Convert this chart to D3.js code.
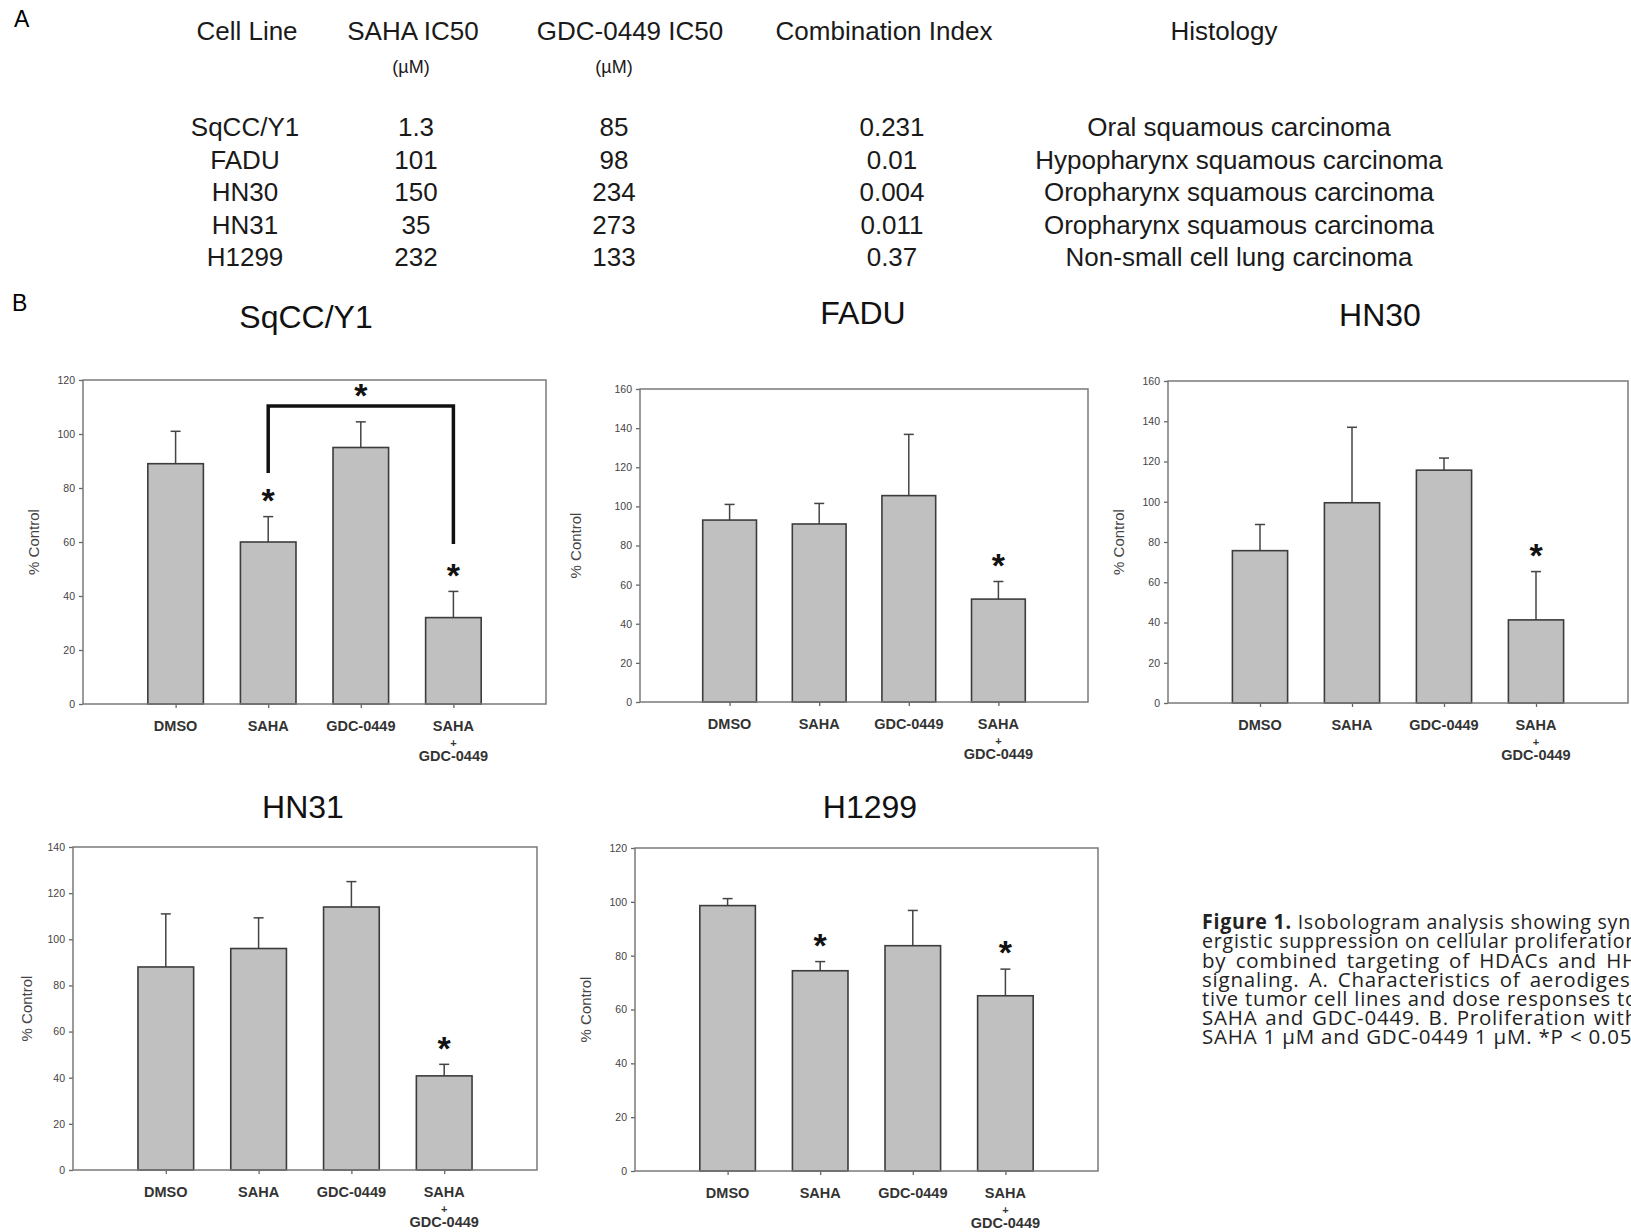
<!DOCTYPE html>
<html lang="en">
<head>
<meta charset="UTF-8">
<title>Figure 1 – SAHA and GDC-0449</title>
<script src="https://d3js.org/d3.v7.min.js"></script>
<style>
  body { margin: 0; background: #fff; overflow: hidden; }
</style>
</head>
<body>
<script>
// ---- panel A: table ----
const tableHeaders = ["Cell Line", "SAHA IC50", "GDC-0449 IC50", "Combination Index", "Histology"];
const tableUnits = ["", "(µM)", "(µM)", "", ""];
const cellLines = ["SqCC/Y1", "FADU", "HN30", "HN31", "H1299"];
const sahaIC50 = ["1.3", "101", "150", "35", "232"];
const gdcIC50 = ["85", "98", "234", "273", "133"];
const combinationIndex = ["0.231", "0.01", "0.004", "0.011", "0.37"];
const histology = [
  "Oral squamous carcinoma",
  "Hypopharynx squamous carcinoma",
  "Oropharynx squamous carcinoma",
  "Oropharynx squamous carcinoma",
  "Non-small cell lung carcinoma"
];

// ---- panel B: % control per cell line ----
const treatments = ["DMSO", "SAHA", "GDC-0449", "SAHA + GDC-0449"];
const yMax = [120, 160, 160, 140, 120];
const means = [
  [89, 60, 95, 32],
  [93, 91, 105.5, 52.6],
  [75.7, 99.5, 115.7, 41.3],
  [88, 96, 114, 40.8],
  [98.6, 74.4, 83.7, 65.1]
];
const errors = [
  [12, 9.4, 9.5, 9.7],
  [8, 10.5, 31.3, 9],
  [13, 37.5, 6, 24],
  [23, 13.3, 11, 5],
  [2.6, 3.4, 13.1, 9.9]
];
const significant = [
  [0, 1, 0, 1],
  [0, 0, 0, 1],
  [0, 0, 0, 1],
  [0, 0, 0, 1],
  [0, 1, 0, 1]
];
// SqCC/Y1: SAHA vs SAHA + GDC-0449 bracket (bar indices, then top / left end / right end in % control)
const bracketBars = [1, 3];
const bracketLevels = [110.4, 85.6, 59.3];

const captionLines = [
  "Figure 1. Isobologram analysis showing syn-",
  "ergistic suppression on cellular proliferation",
  "by combined targeting of HDACs and HH",
  "signaling. A. Characteristics of aerodiges-",
  "tive tumor cell lines and dose responses to",
  "SAHA and GDC-0449. B. Proliferation with",
  "SAHA 1 µM and GDC-0449 1 µM. *P < 0.05."
];

// layout
const width = 1631, height = 1232;
const panels = [
  {x0: 83, x1: 546, y0: 380, y1: 704, tx: 306, ty: 317, ld: 49},
  {x0: 640, x1: 1088, y0: 389, y1: 702, tx: 863, ty: 313, ld: 64},
  {x0: 1168, x1: 1628, y0: 381, y1: 703, tx: 1380, ty: 315, ld: 49},
  {x0: 73, x1: 537, y0: 847, y1: 1170, tx: 303, ty: 807, ld: 46},
  {x0: 635, x1: 1098, y0: 848, y1: 1171, tx: 870, ty: 807, ld: 49}
];
const sans = "'Liberation Sans', Arial, sans-serif";

const svg = d3.select("body").append("svg")
  .attr("width", width)
  .attr("height", height)
  .attr("font-family", sans);

// panel letters
svg.append("text").attr("x", 14).attr("y", 27).attr("font-size", 23).text("A");
svg.append("text").attr("x", 12).attr("y", 311).attr("font-size", 23).text("B");

// ---- table ----
const headerX = [247, 413, 630, 884, 1224];
const colX = [245, 416, 614, 892, 1239];
const rowY = d3.scalePoint().domain(cellLines).range([127, 257]);
const tableFs = 26;

svg.append("g").selectAll("text")
  .data(tableHeaders)
  .join("text")
  .attr("x", (d, i) => headerX[i])
  .attr("y", 31 + tableFs * 0.35)
  .attr("text-anchor", "middle")
  .attr("font-size", tableFs)
  .attr("fill", "#1a1a1a")
  .text(d => d);

svg.append("g").selectAll("text")
  .data(tableUnits)
  .join("text")
  .attr("x", (d, i) => [0, 411, 614][i] || 0)
  .attr("y", 67 + 18 * 0.35)
  .attr("text-anchor", "middle")
  .attr("font-size", 18)
  .attr("fill", "#1a1a1a")
  .text(d => d);

const rows = cellLines.map((c, i) => [c, sahaIC50[i], gdcIC50[i], combinationIndex[i], histology[i]]);
svg.append("g").selectAll("g")
  .data(rows)
  .join("g")
  .attr("transform", (d, i) => `translate(0,${rowY(cellLines[i]) + tableFs * 0.35})`)
  .selectAll("text")
  .data(d => d)
  .join("text")
  .attr("x", (d, i) => colX[i])
  .attr("text-anchor", "middle")
  .attr("font-size", tableFs)
  .attr("fill", "#1a1a1a")
  .text(d => d);

// ---- bar charts ----
const starFs = 34;
panels.forEach((p, k) => {
  const g = svg.append("g");
  const x = d3.scalePoint().domain(treatments).range([p.x0, p.x1]).padding(1);
  const y = d3.scaleLinear().domain([0, yMax[k]]).range([p.y1, p.y0]);
  const bw = x.step() * 0.6;

  g.append("text")
    .attr("x", p.tx).attr("y", p.ty + 32 * 0.35)
    .attr("text-anchor", "middle")
    .attr("font-size", 32)
    .attr("fill", "#111")
    .text(cellLines[k]);

  // y axis
  const ya = g.append("g")
    .attr("transform", `translate(${p.x0},0)`)
    .call(d3.axisLeft(y).tickValues(d3.range(0, yMax[k] + 1, 20)).tickSize(4).tickSizeOuter(0).tickPadding(4));
  ya.select(".domain").remove();
  ya.selectAll("line").attr("stroke", "#666").attr("stroke-width", 1.3);
  ya.selectAll("text").attr("font-size", 10.5).attr("fill", "#444")
    .attr("font-family", sans);

  g.append("text")
    .attr("transform", `translate(${p.x0 - p.ld},${(p.y0 + p.y1) / 2}) rotate(-90)`)
    .attr("dy", "0.35em")
    .attr("text-anchor", "middle")
    .attr("font-size", 15)
    .attr("fill", "#444")
    .text("% Control");

  // x axis ticks
  const xa = g.append("g")
    .attr("transform", `translate(0,${p.y1})`)
    .call(d3.axisBottom(x).tickSize(4).tickSizeOuter(0).tickFormat(""));
  xa.select(".domain").remove();
  xa.selectAll("line").attr("stroke", "#666").attr("stroke-width", 1.3);

  const labels = g.append("g").selectAll("g")
    .data(treatments)
    .join("g")
    .attr("transform", d => `translate(${x(d)},${p.y1})`);
  labels.each(function (d) {
    const parts = d.split(" + ");
    const lg = d3.select(this);
    lg.append("text").attr("y", 22 + 14.5 * 0.35).attr("text-anchor", "middle")
      .attr("font-size", 14.5).attr("font-weight", "bold").attr("fill", "#333").text(parts[0]);
    if (parts.length > 1) {
      lg.append("text").attr("y", 39 + 11 * 0.35).attr("text-anchor", "middle")
        .attr("font-size", 11).attr("font-weight", "bold").attr("fill", "#333").text("+");
      lg.append("text").attr("y", 52 + 14.5 * 0.35).attr("text-anchor", "middle")
        .attr("font-size", 14.5).attr("font-weight", "bold").attr("fill", "#333").text(parts[1]);
    }
  });

  const data = treatments.map((t, i) => ({t, m: means[k][i], e: errors[k][i], s: significant[k][i]}));

  // error bars (upper only)
  const eb = g.append("g").attr("stroke", "#444").attr("stroke-width", 1.5);
  eb.selectAll("line.v").data(data).join("line").attr("class", "v")
    .attr("x1", d => x(d.t)).attr("x2", d => x(d.t))
    .attr("y1", d => y(d.m)).attr("y2", d => y(d.m + d.e));
  eb.selectAll("line.c").data(data).join("line").attr("class", "c")
    .attr("x1", d => x(d.t) - 5).attr("x2", d => x(d.t) + 5)
    .attr("y1", d => y(d.m + d.e)).attr("y2", d => y(d.m + d.e));

  // bars
  g.append("g").selectAll("rect")
    .data(data)
    .join("rect")
    .attr("x", d => x(d.t) - bw / 2)
    .attr("y", d => y(d.m))
    .attr("width", bw)
    .attr("height", d => y(0) - y(d.m))
    .attr("fill", "#c0c0c0")
    .attr("stroke", "#3c3c3c")
    .attr("stroke-width", 1.6);

  // frame
  g.append("rect")
    .attr("x", p.x0).attr("y", p.y0)
    .attr("width", p.x1 - p.x0).attr("height", p.y1 - p.y0)
    .attr("fill", "none").attr("stroke", "#7a7a7a").attr("stroke-width", 1.5);

  // significance stars
  g.append("g").selectAll("text")
    .data(data.filter(d => d.s))
    .join("text")
    .attr("x", d => x(d.t))
    .attr("y", d => y(d.m + d.e) - 20 + starFs * 0.45)
    .attr("text-anchor", "middle")
    .attr("font-size", starFs)
    .attr("font-weight", "bold")
    .attr("fill", "#111")
    .text("*");

  if (k === 0) {
    const xa0 = x(treatments[bracketBars[0]]), xb0 = x(treatments[bracketBars[1]]);
    g.append("path")
      .attr("d", `M${xa0},${y(bracketLevels[1])}V${y(bracketLevels[0])}H${xb0}V${y(bracketLevels[2])}`)
      .attr("fill", "none")
      .attr("stroke", "#111")
      .attr("stroke-width", 3.5);
    g.append("text")
      .attr("x", (xa0 + xb0) / 2)
      .attr("y", y(bracketLevels[0]) - 14 + starFs * 0.45)
      .attr("text-anchor", "middle")
      .attr("font-size", starFs)
      .attr("font-weight", "bold")
      .attr("fill", "#111")
      .text("*");
  }
});

// ---- caption (justified column running past the page edge) ----
const capX = 1202, capW = 436, capY = 922, capLead = 19.1, capFs = 20.5;
const cap = svg.append("g")
  .attr("font-family", "'Open Sans', 'Noto Sans', sans-serif")
  .attr("font-size", capFs)
  .attr("letter-spacing", 0.8)
  .attr("fill", "#222");

function measure(str, weight) {
  const t = cap.append("text").attr("font-weight", weight).text(str);
  const w = t.node().getComputedTextLength();
  t.remove();
  return w;
}
const spaceW = measure("a a", "normal") - measure("aa", "normal");

captionLines.forEach((line, li) => {
  const base = capY + li * capLead + capFs * 0.36;
  const words = line.split(" ").map((w, wi) => ({w, bold: li === 0 && wi < 2}));
  words.forEach(d => d.len = measure(d.w, d.bold ? "bold" : "normal"));
  const total = d3.sum(words, d => d.len);
  const natural = total + spaceW * (words.length - 1);
  const last = li === captionLines.length - 1;

  // last line keeps normal spacing; a justified line that is too long is squeezed a little
  const squeeze = !last && natural > capW;
  const gap = last || squeeze ? spaceW : (capW - total) / (words.length - 1);
  const k = squeeze ? capW / natural : 1;
  let cx = capX;
  words.forEach(d => {
    const t = cap.append("text")
      .attr("x", cx).attr("y", base)
      .attr("font-weight", d.bold ? "bold" : "normal")
      .text(d.w);
    if (squeeze) t.attr("textLength", d.len * k).attr("lengthAdjust", "spacingAndGlyphs");
    cx += (d.len + gap) * k;
  });
});
</script>
</body>
</html>
